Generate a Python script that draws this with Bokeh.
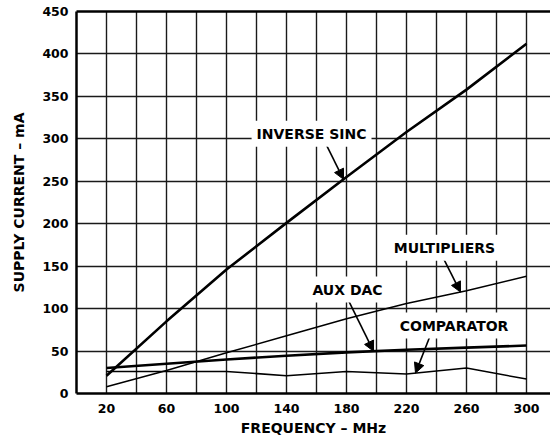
import numpy as np
from bokeh.plotting import figure
from bokeh.models import FixedTicker, Label, Arrow, NormalHead, LinearAxis
from bokeh.embed import file_html
from bokeh.resources import INLINE

# ---- data ----
freq = [20, 60, 100, 140, 180, 220, 260, 300]
inverse_sinc = [21, 85, 146, 201, 255, 308, 358, 412]
multipliers = [8, 27, 48, 68, 88, 106, 121, 138]
aux_dac = [30, 35, 40, 44.5, 48.5, 51.5, 54, 56.5]
comparator = [26, 26, 26, 21, 26, 23, 30, 17]

x_tick_values = [20, 60, 100, 140, 180, 220, 260, 300]
x_grid_values = [20, 40, 60, 80, 100, 120, 140, 160, 180, 200, 220, 240, 260, 280, 300]
y_tick_values = [0, 50, 100, 150, 200, 250, 300, 350, 400, 450]

label_texts = ["INVERSE SINC", "MULTIPLIERS", "AUX DAC", "COMPARATOR"]
label_x = [156.7, 245.3, 180.7, 251.7]
label_y = [305.9, 171.8, 122.4, 80.0]
arrow_from_x = [166.0, 244.7, 180.7, 235.3]
arrow_from_y = [295.0, 158.8, 111.8, 65.9]
arrow_to_x = [178.0, 256.0, 198.0, 226.0]
series_for_label = [inverse_sinc, multipliers, aux_dac, comparator]

FONT = "DejaVu Sans"

p = figure(width=550, height=442, output_backend="svg", toolbar_location=None,
           x_range=(0, 316), y_range=(0, 450),
           min_border_left=76, min_border_right=0, min_border_top=11, min_border_bottom=49)
p.outline_line_color = None
p.background_fill_color = "white"
p.border_fill_color = "white"

# axes
for ax in (p.xaxis[0], p.yaxis[0]):
    ax.axis_line_width = 2.5
    ax.axis_line_color = "black"
    ax.major_tick_line_color = None
    ax.minor_tick_line_color = None
    ax.major_tick_out = 0
    ax.major_tick_in = 0
    ax.major_label_text_font = FONT
    ax.major_label_text_font_style = "bold"
    ax.major_label_text_font_size = "12.5px"
    ax.major_label_text_color = "black"
    ax.axis_label_text_font = FONT
    ax.axis_label_text_font_style = "bold"
    ax.axis_label_text_font_size = "14px"
    ax.axis_label_text_color = "black"

p.xaxis.ticker = FixedTicker(ticks=x_tick_values)
p.yaxis.ticker = FixedTicker(ticks=y_tick_values)
p.xaxis.major_label_standoff = 10
p.yaxis.major_label_standoff = 8
p.xaxis.axis_label = "FREQUENCY – MHz"
p.yaxis.axis_label = "SUPPLY CURRENT – mA"
p.xaxis.axis_label_standoff = 4
p.yaxis.axis_label_standoff = 12

# top border as a bare axis line
top_axis = LinearAxis(ticker=FixedTicker(ticks=[]), axis_line_width=2.5, axis_line_color="black",
                      major_tick_line_color=None, minor_tick_line_color=None,
                      major_tick_out=0, major_tick_in=0, minor_tick_out=0,
                      major_label_text_font_size="0px", major_label_standoff=0)
p.add_layout(top_axis, "above")

# grid
p.xgrid.ticker = FixedTicker(ticks=x_grid_values)
p.ygrid.ticker = FixedTicker(ticks=y_tick_values)
for g in (p.xgrid[0], p.ygrid[0]):
    g.grid_line_color = "#1a1a1a"
    g.grid_line_width = 1.4
    g.grid_line_alpha = 1.0

# series
p.line(freq, inverse_sinc, line_color="black", line_width=2.6)
p.line(freq, multipliers, line_color="black", line_width=1.5)
p.line(freq, aux_dac, line_color="black", line_width=2.6)
p.line(freq, comparator, line_color="black", line_width=1.5)

# annotations
for txt, lx, ly, ax0, ay0, ax1, ser in zip(label_texts, label_x, label_y,
                                           arrow_from_x, arrow_from_y, arrow_to_x,
                                           series_for_label):
    ay1 = float(np.interp(ax1, freq, ser))
    p.add_layout(Arrow(end=NormalHead(size=10, fill_color="black", line_color="black"),
                       x_start=ax0, y_start=ay0, x_end=ax1, y_end=ay1,
                       line_color="black", line_width=1.6))
    p.add_layout(Label(x=lx, y=ly, text=txt, text_align="center", text_baseline="middle",
                       text_font=FONT, text_font_style="bold", text_font_size="14px",
                       text_color="black", background_fill_color="white", padding=5))

open("out.html", "w").write(file_html(p, INLINE))
